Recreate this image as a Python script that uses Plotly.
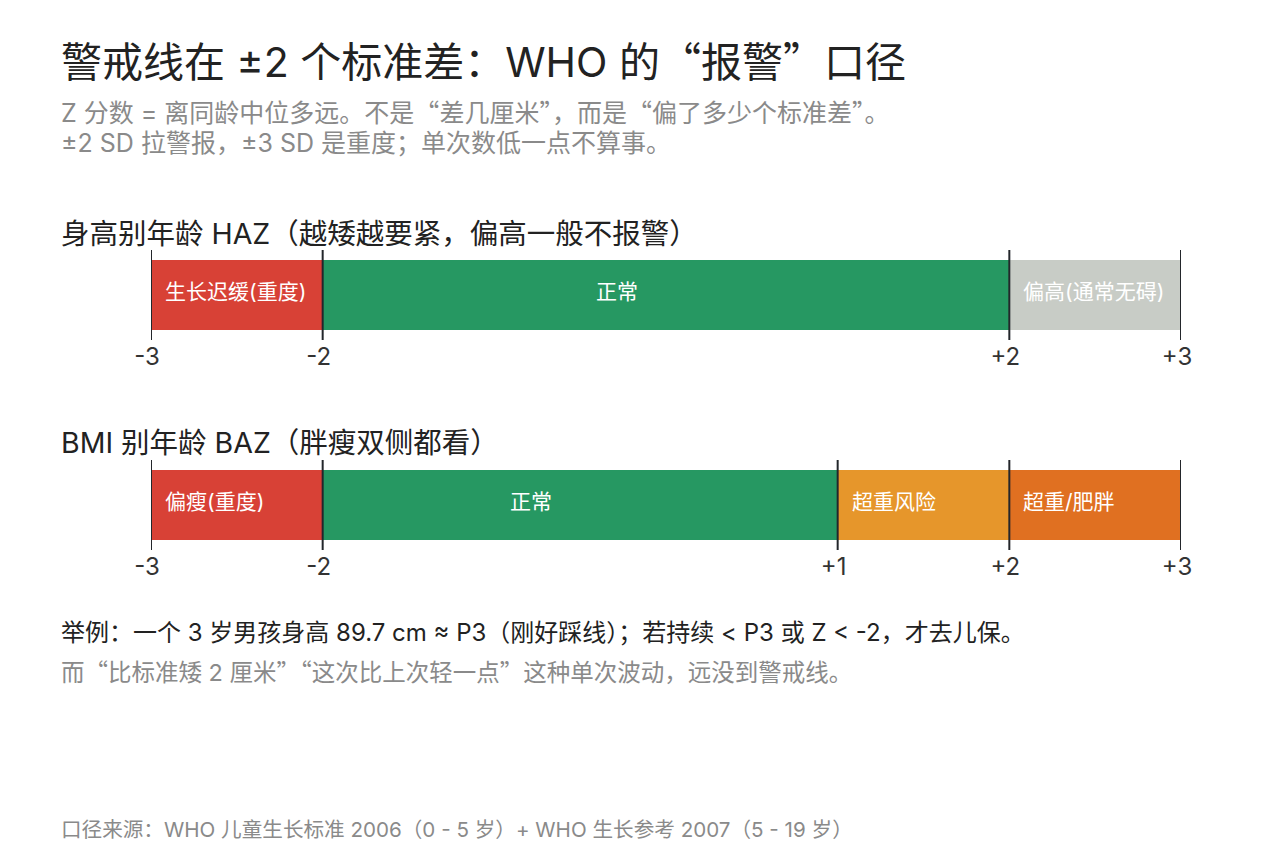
import plotly.graph_objects as go

# ---- data ----
haz_bounds = [-3, -2, 2, 3]
haz_labels = ["生长迟缓(重度)", "正常", "偏高(通常无碍)"]
haz_colors = ["#D84136", "#269862", "#C8CCC6"]

baz_bounds = [-3, -2, 1, 2, 3]
baz_labels = ["偏瘦(重度)", "正常", "超重风险", "超重/肥胖"]
baz_colors = ["#D84136", "#269862", "#E6962B", "#E07021"]

tick_text = {-3: "-3", -2: "-2", 1: "+1", 2: "+2", 3: "+3"}

title = "警戒线在 ±2 个标准差：WHO 的“报警”口径"
subtitle1 = "Z 分数 = 离同龄中位多远。不是“差几厘米”，而是“偏了多少个标准差”。"
subtitle2 = "±2 SD 拉警报，±3 SD 是重度；单次数低一点不算事。"
haz_title = "身高别年龄 HAZ（越矮越要紧，偏高一般不报警）"
baz_title = "BMI 别年龄 BAZ（胖瘦双侧都看）"
note1 = "举例：一个 3 岁男孩身高 89.7 cm ≈ P3（刚好踩线）；若持续 < P3 或 Z < -2，才去儿保。"
note2 = "而“比标准矮 2 厘米”“这次比上次轻一点”这种单次波动，远没到警戒线。"
source = "口径来源：WHO 儿童生长标准 2006（0 - 5 岁）+ WHO 生长参考 2007（5 - 19 岁）"

FONT = "Inter, Noto Sans CJK SC, sans-serif"
CJK = "Noto Sans CJK SC"
W, H = 1280, 860
OFF = 8  # page body offset
X0, X1 = 151 - OFF, 1181 - OFF


def py(p):
    return 1 - (p - OFF) / H


def cjk_quotes(s):
    for q in ("“", "”"):
        s = s.replace(q, f'<span style="font-family:{CJK}">{q}</span>')
    return s


fig = go.Figure()

panels = [
    (haz_bounds, haz_labels, haz_colors, "x", "y", 250, 340),
    (baz_bounds, baz_labels, baz_colors, "x2", "y2", 460, 550),
]

for bounds, labels, colors, xa, ya, top, bot in panels:
    for i, lab in enumerate(labels):
        fig.add_trace(go.Bar(
            y=[0], x=[bounds[i + 1] - bounds[i]], base=[bounds[i]],
            orientation="h", marker=dict(color=colors[i], line=dict(width=0)),
            width=70 / 90, xaxis=xa, yaxis=ya, showlegend=False, hoverinfo="skip",
        ))
        if lab == "正常":
            fig.add_annotation(x=(bounds[i] + bounds[i + 1]) / 2, y=0, xref=xa, yref=ya,
                               text=lab, showarrow=False, xanchor="center", xshift=-49,
                               yshift=4, font=dict(family=FONT, size=21, color="white"))
        else:
            fig.add_annotation(x=bounds[i], y=0, xref=xa, yref=ya,
                               text=lab, showarrow=False, xanchor="left", xshift=12,
                               yshift=4, font=dict(family=FONT, size=21, color="white"))
    lx, ly = [], []
    for b in bounds:
        lx += [b, b, None]
        ly += [-0.5, 0.5, None]
    fig.add_trace(go.Scatter(x=lx, y=ly, mode="lines", xaxis=xa, yaxis=ya,
                             line=dict(color="#23262b", width=2),
                             showlegend=False, hoverinfo="skip"))

axis_common = dict(range=[-3, 3], domain=[X0 / W, X1 / W], showgrid=False,
                   zeroline=False, showline=False, ticks="", automargin=False,
                   ticklabelshift=-4,
                   tickfont=dict(family=FONT, size=24, color="#333333"),
                   fixedrange=True)

fig.update_layout(
    width=W, height=H, margin=dict(l=0, r=0, t=0, b=0, autoexpand=False),
    plot_bgcolor="white", paper_bgcolor="white", barmode="overlay",
    xaxis=dict(**axis_common, anchor="y", tickvals=haz_bounds,
               ticktext=[tick_text[b] for b in haz_bounds]),
    yaxis=dict(domain=[py(340), py(250)], range=[-0.5, 0.5], visible=False,
               fixedrange=True, automargin=False),
    xaxis2=dict(**axis_common, anchor="y2", tickvals=baz_bounds,
                ticktext=[tick_text[b] for b in baz_bounds]),
    yaxis2=dict(domain=[py(550), py(460)], range=[-0.5, 0.5], visible=False,
                fixedrange=True, automargin=False),
)

texts = [
    (title, 59, 41, "#222222"),
    (subtitle1, 111, 25, "#8a8a8a"),
    (subtitle2, 143, 25, "#8a8a8a"),
    (haz_title, 233, 28.5, "#222222"),
    (baz_title, 442, 28.5, "#222222"),
    (note1, 632, 24, "#222222"),
    (note2, 671, 23.5, "#8a8a8a"),
    (source, 829, 20.6, "#8a8a8a"),
]
for t, yc, sz, col in texts:
    fig.add_annotation(x=(62 - OFF - 3) / W, y=py(yc), xref="paper", yref="paper",
                       text=cjk_quotes(t),
                       showarrow=False, xanchor="left", yanchor="middle",
                       font=dict(family=FONT, size=sz, color=col))

fig.write_html("out.html")
